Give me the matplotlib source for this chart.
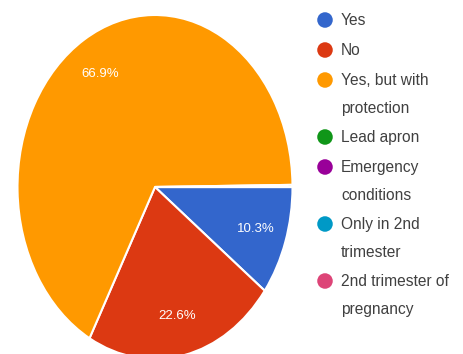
import matplotlib
matplotlib.use("Agg")
import matplotlib.pyplot as plt

plt.rcParams['font.family'] = ['Liberation Sans', 'DejaVu Sans']

# Survey answers and their shares (%)
categories = [
    "Yes",
    "No",
    "Yes, but with\nprotection",
    "Lead apron",
    "Emergency\nconditions",
    "Only in 2nd\ntrimester",
    "2nd trimester of\npregnancy",
]
shares = [10.3, 22.6, 66.9, 0.2, 0.0, 0.0, 0.0]
colors = ["#3366cc", "#dc3912", "#ff9900", "#109618", "#990099", "#0099c6", "#dd4477"]

W, H, DPI = 464, 354, 100
fig = plt.figure(figsize=(W / DPI, H / DPI), dpi=DPI)
ax = fig.add_axes([0, 0, 1, 1])

wedges, texts, autotexts = ax.pie(
    shares,
    colors=colors,
    startangle=0,
    counterclock=False,
    radius=1.0,
    autopct=lambda p: f"{p:.1f}%" if p >= 5 else "",
    pctdistance=0.77,
    wedgeprops=dict(edgecolor="white", linewidth=1.5),
    textprops=dict(color="white", fontsize=9.5),
)

# Slightly stretched ellipse, clipped by the figure edges
cx, cy = 155, 187          # pie centre in pixels from the top-left
rx, ry = 137.5, 172.0      # horizontal / vertical radius in pixels
ax.set_aspect("auto")
ax.set_xlim(-cx / rx, (W - cx) / rx)
ax.set_ylim(-(H - cy) / ry, cy / ry)
ax.axis("off")

# Legend drawn in a pixel-space overlay axes
lax = fig.add_axes([0, 0, 1, 1], facecolor="none")
lax.set_xlim(0, W)
lax.set_ylim(H, 0)
lax.axis("off")

marker_x, text_x = 325, 341
line_pitch, entry_gap = 27, 30
y = 20
for label, color in zip(categories, colors):
    lax.scatter([marker_x], [y], s=125, color=color, edgecolors="none")
    lax.text(text_x, y - 7, label, ha="left", va="top", fontsize=11.2,
             color="#404040", linespacing=2.1)
    n_lines = label.count("\n") + 1
    y += line_pitch * (n_lines - 1) + entry_gap

fig.savefig("out.png", dpi=DPI, facecolor="white")
